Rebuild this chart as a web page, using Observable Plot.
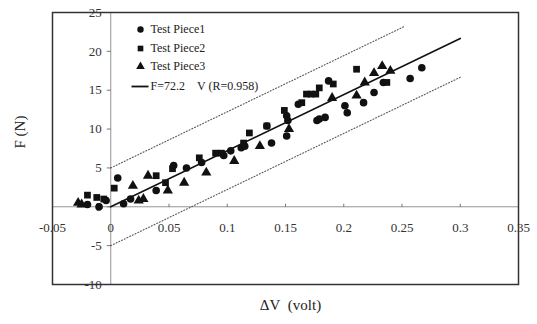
<!DOCTYPE html>
<html><head><meta charset="utf-8">
<script src="https://cdn.jsdelivr.net/npm/d3@7"></script>
<script src="https://cdn.jsdelivr.net/npm/@observablehq/plot@0.6"></script>
<style>body{margin:0;background:#fff}</style>
</head><body><div id="chart"></div>
<script>
// Test Piece 1 (circles)
const p1X = [-0.02,-0.01,-0.004,0.006,0.011,0.017,0.039,0.054,0.065,0.078,0.097,0.103,0.112,0.115,0.134,0.138,0.151,0.151,0.152,0.161,0.177,0.179,0.184,0.187,0.201,0.203,0.217,0.226,0.234,0.257,0.267];
const p1F = [0.3,0,0.8,3.7,0.4,1.0,2.1,5.3,5.0,5.7,6.6,7.2,7.6,7.8,10.4,8.2,11.7,9.1,11.1,13.2,11.1,11.3,11.5,16.2,13.0,12.1,13.4,14.7,16.0,16.5,17.9];
// Test Piece 2 (squares)
const p2X = [-0.02,-0.012,-0.006,0.003,0.039,0.047,0.053,0.076,0.09,0.095,0.114,0.119,0.134,0.149,0.164,0.168,0.172,0.176,0.179,0.191,0.211,0.237];
const p2F = [1.5,1.2,1.0,2.4,4.0,3.1,4.9,6.3,6.9,6.9,8.2,9.5,10.4,12.4,13.4,14.5,14.5,14.5,15.3,15.8,17.7,16.0];
// Test Piece 3 (triangles)
const p3X = [-0.028,-0.025,0.019,0.024,0.028,0.032,0.049,0.063,0.082,0.106,0.128,0.153,0.19,0.211,0.218,0.226,0.233,0.24];
const p3F = [0.5,0.3,2.7,0.8,1.0,4.0,2.1,3.1,4.4,5.9,7.8,10.0,14.0,14.3,16.0,17.2,18.1,17.5];
// Fit line F = 72.2 ΔV and dotted bands
const fitX = [0, 0.3];
const fitF = [0, 21.66];
const upperX = [0, 0.252];
const upperF = [5, 23.2];
const lowerX = [0, 0.3];
const lowerF = [-5, 16.66];
// Ticks
const xTicks = [-0.05,0,0.05,0.1,0.15,0.2,0.25,0.3,0.35];
const xTickLabels = ["-0.05","0","0.05","0.1","0.15","0.2","0.25","0.3","0.35"];
const yTicks = [-10,-5,0,5,10,15,20,25];
const yTickLabels = ["-10","-5","0","5","10","15","20","25"];
const legendLabels = ["Test Piece1","Test Piece2","Test Piece3","F=72.2\u00a0\u00a0\u00a0\u00a0V (R=0.958)"];
const legendSymbols = ["circle","square","triangle","line"];

const pts = [
  ...p1X.map((x,i)=>({x, f:p1F[i], s:"circle"})),
  ...p2X.map((x,i)=>({x, f:p2F[i], s:"square"})),
  ...p3X.map((x,i)=>({x, f:p3F[i], s:"triangle"}))
];
const line = (xs, fs) => xs.map((x,i)=>({x, f:fs[i]}));
const xt = xTicks.map((v,i)=>({v, label:xTickLabels[i]}));
const yt = yTicks.map((v,i)=>({v, label:yTickLabels[i]}));

const hTick = {draw(ctx){ ctx.moveTo(-4,0); ctx.lineTo(0,0); }};
const vTick = {draw(ctx){ ctx.moveTo(0,0); ctx.lineTo(0,-3); }};
const legLine = {draw(ctx){ ctx.moveTo(-9,0); ctx.lineTo(8,0); }};
const font = "'Liberation Serif', 'Times New Roman', serif";
const legRowDy = [17, 36, 54, 74];

const legendMarks = legendLabels.flatMap((label, i) => [
  legendSymbols[i] === "line"
    ? Plot.dot([label], {frameAnchor: "top-left", dx: 88, dy: legRowDy[i], symbol: () => legLine, stroke: "#111", strokeWidth: 1.8, r: 3})
    : Plot.dot([label], {frameAnchor: "top-left", dx: 88, dy: legRowDy[i], symbol: () => legendSymbols[i], fill: "#111", r: 3.2}),
  Plot.text([label], {frameAnchor: "top-left", dx: 98, dy: legRowDy[i], text: d => d, textAnchor: "start", lineAnchor: "middle", fontSize: 12, fill: "#222", fontFamily: font})
]);

const chart = Plot.plot({
  width: 537, height: 324,
  marginLeft: 52, marginRight: 19, marginTop: 12, marginBottom: 40,
  style: {fontFamily: font, background: "#fff", color: "#222"},
  x: {domain: [-0.05, 0.35], axis: null},
  y: {domain: [-10, 25], axis: null},
  symbol: {type: "identity"},
  marks: [
    Plot.ruleX([0], {stroke: "#777", strokeWidth: 0.8}),
    Plot.ruleY([0], {stroke: "#777", strokeWidth: 0.8}),
    Plot.dot(yt, {x: () => 0, y: "v", symbol: () => hTick, stroke: "#555", strokeWidth: 0.8, r: 3}),
    Plot.dot(xt.filter(d => d.v !== 0 && d.v !== -0.05 && d.v !== 0.35), {x: "v", y: () => 0, symbol: () => vTick, stroke: "#555", strokeWidth: 0.8, r: 3}),
    Plot.text(yt, {x: () => 0, y: "v", text: "label", textAnchor: "end", dx: -9, fontSize: 13, fill: "#333", fontFamily: font}),
    Plot.text(xt, {x: "v", y: () => 0, text: "label", dy: 21, fontSize: 13, fill: "#333", fontFamily: font}),
    Plot.line(line(upperX, upperF), {x: "x", y: "f", stroke: "#555", strokeWidth: 1.1, strokeDasharray: "1,2"}),
    Plot.line(line(lowerX, lowerF), {x: "x", y: "f", stroke: "#555", strokeWidth: 1.1, strokeDasharray: "1,2"}),
    Plot.line(line(fitX, fitF), {x: "x", y: "f", stroke: "#111", strokeWidth: 1.6}),
    Plot.dot(pts, {x: "x", y: "f", symbol: "s", fill: "#111", r: 3.8}),
    Plot.frame({stroke: "#333", strokeWidth: 1.5}),
    ...legendMarks,
    Plot.text(["F (N)"], {frameAnchor: "left", dx: -32, rotate: -90, lineAnchor: "middle", fontSize: 15, fill: "#222", fontFamily: font}),
    Plot.text(["\u0394V\u00a0 (volt)"], {frameAnchor: "bottom", dx: 5, dy: 21, lineAnchor: "middle", fontSize: 15, fill: "#222", fontFamily: font})
  ]
});
document.getElementById("chart").append(chart);
</script>
</body></html>
